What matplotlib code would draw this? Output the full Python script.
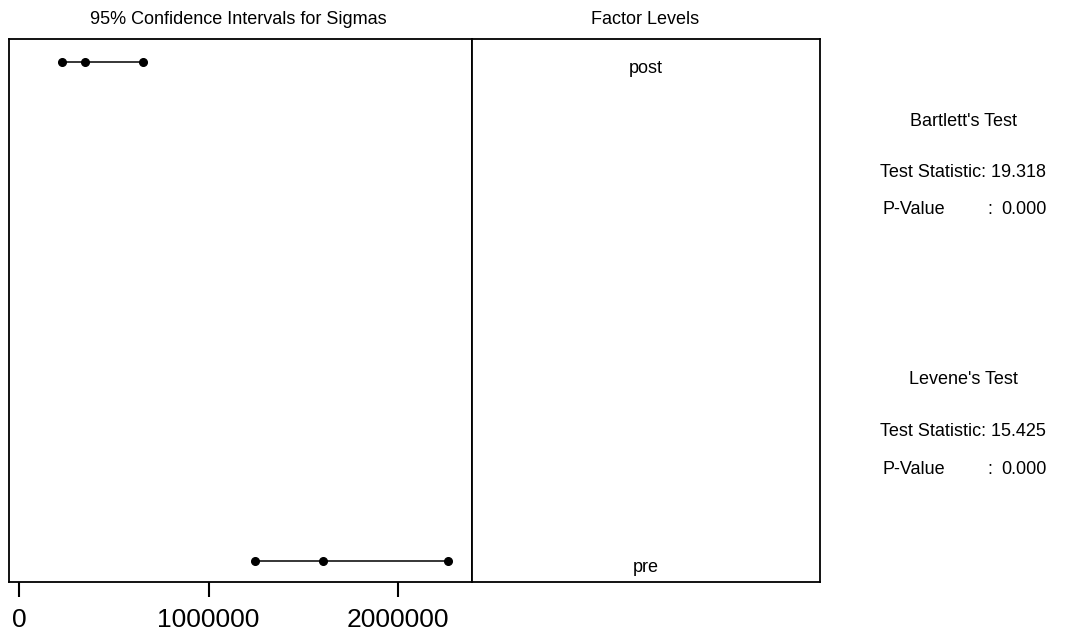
import matplotlib
matplotlib.use("Agg")
import matplotlib.pyplot as plt

plt.rcParams['font.family'] = ['Liberation Sans', 'DejaVu Sans']

levels = ["post", "pre"]
lower = [228000, 1245000]
sigma = [348000, 1606000]
upper = [656000, 2265000]
ypos = [1, 0]
xticks = [0, 1000000, 2000000]

bartlett_stat = "19.318"
bartlett_p = "0.000"
levene_stat = "15.425"
levene_p = "0.000"

W, H = 1067, 635
fig = plt.figure(figsize=(W / 100, H / 100), dpi=100)

def ax_px(x0, y0, x1, y1):
    return fig.add_axes([x0 / W, (H - y1) / H, (x1 - x0) / W, (y1 - y0) / H])

def ftext(x, y, s, ha="center", size=13):
    fig.text(x / W, 1 - y / H, s, ha=ha, va="center", fontsize=size)

ax = ax_px(9, 39, 472, 582)
for lo, s, hi, y in zip(lower, sigma, upper, ypos):
    ax.plot([lo, hi], [y, y], color="black", lw=1.1, zorder=2)
    ax.plot([lo, s, hi], [y, y, y], "o", color="black", ms=5.5, zorder=3)
ax.set_xlim(-52800, 2390500)
ax.set_ylim(-21 / 499, 1 + 23 / 499)
ax.set_xticks(xticks)
ax.set_xticklabels([str(t) for t in xticks], fontsize=19)
ax.set_yticks([])
ax.tick_params(axis="x", direction="out", length=11, width=1.5, pad=8)
for sp in ax.spines.values():
    sp.set_linewidth(1.3)

ax2 = ax_px(472, 39, 820, 582)
ax2.set_xlim(0, 1)
ax2.set_ylim(-21 / 499, 1 + 23 / 499)
ax2.set_xticks([])
ax2.set_yticks([])
for sp in ax2.spines.values():
    sp.set_linewidth(1.3)
for lev, y in zip(levels, ypos):
    ax2.annotate(lev, xy=(0.5, y), xycoords="data", xytext=(0, -4.5),
                 textcoords="offset points", ha="center", va="center",
                 fontsize=13)

ftext(238, 19, "95% Confidence Intervals for Sigmas")
ftext(645, 19, "Factor Levels")

ftext(963, 121, "Bartlett's Test")
ftext(963, 172, "Test Statistic: " + bartlett_stat)
ftext(883, 209, "P-Value", ha="left")
ftext(987, 209, ":", ha="left")
ftext(1001, 209, bartlett_p, ha="left")

ftext(963, 379, "Levene's Test")
ftext(963, 432, "Test Statistic: " + levene_stat)
ftext(883, 470, "P-Value", ha="left")
ftext(987, 470, ":", ha="left")
ftext(1001, 470, levene_p, ha="left")

fig.savefig("out.png", dpi=100)
